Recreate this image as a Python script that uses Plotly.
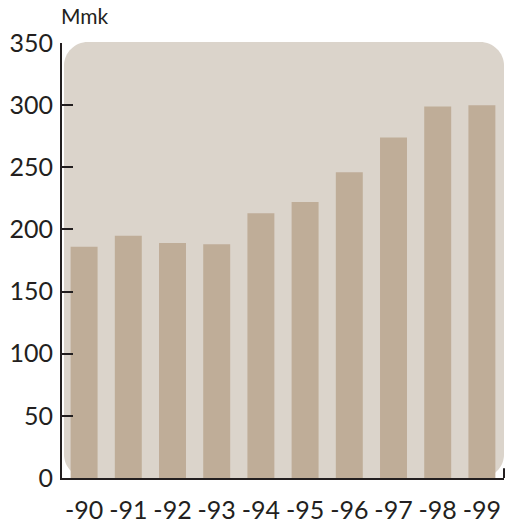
import plotly.graph_objects as go

years = ["-90", "-91", "-92", "-93", "-94", "-95", "-96", "-97", "-98", "-99"]
values = [186, 195, 189, 188, 213, 222, 246, 274, 299, 300]
y_ticks = [0, 50, 100, 150, 200, 250, 300, 350]
unit_label = "Mmk"

W, H = 506, 526
ML, MR, MT, MB = 62, 2, 43, 39
pw, ph = W - ML - MR, H - MT - MB

BG = "#dbd4cb"
BAR = "#bfad98"
INK = "#231f20"
FONT = "Lato"

x_idx = list(range(len(years)))

fig = go.Figure(go.Bar(x=x_idx, y=values, marker=dict(color=BAR, line=dict(width=0)),
                       width=0.61, hoverinfo="skip"))

# rounded background panel (paper coordinates)
r = 24
rx, ry = r / pw, r / ph
x0, x1 = 2 / pw, 1.0
y0, y1 = 0.0, 1 + 1 / ph
k = 0.45
path = (
    f"M {x0+rx},{y1} L {x1-rx},{y1} "
    f"C {x1-rx*k},{y1} {x1},{y1-ry*k} {x1},{y1-ry} "
    f"L {x1},{y0+ry} C {x1},{y0+ry*k} {x1-rx*k},{y0} {x1-rx},{y0} "
    f"L {x0+rx},{y0} C {x0+rx*k},{y0} {x0},{y0+ry*k} {x0},{y0+ry} "
    f"L {x0},{y1-ry} C {x0},{y1-ry*k} {x0+rx*k},{y1} {x0+rx},{y1} Z"
)
fig.add_shape(type="path", path=path, xref="paper", yref="paper",
              fillcolor=BG, line=dict(width=0), layer="below")
# small end tick at right end of x axis
fig.add_shape(type="line", xref="paper", yref="paper", x0=1.0, x1=1.0,
              y0=0, y1=10 / ph, line=dict(color=INK, width=2))

fig.update_layout(
    width=W, height=H,
    margin=dict(l=ML, r=MR, t=MT, b=MB, pad=0),
    paper_bgcolor="white", plot_bgcolor="rgba(0,0,0,0)",
    showlegend=False,
    font=dict(family=FONT, color=INK, size=24),
    xaxis=dict(range=[-0.5, len(years) - 0.5], tickvals=x_idx, ticktext=years,
               showline=True, linecolor=INK, linewidth=2, ticks="",
               showgrid=False, zeroline=False, tickfont=dict(size=25),
               ticklabelstandoff=9),
    yaxis=dict(range=[0, 350], tickvals=y_ticks, showline=True, linecolor=INK,
               linewidth=2, ticks="inside", ticklen=11, tickwidth=2, tickcolor=INK,
               showgrid=False, zeroline=False, tickfont=dict(size=25),
               ticklabelstandoff=2),
    annotations=[dict(text=unit_label, xref="paper", yref="paper", x=-3 / pw, y=1 + 13 / ph,
                      xanchor="left", yanchor="bottom", showarrow=False,
                      font=dict(size=21, color=INK))],
)

fig.write_html("out.html", config={"displayModeBar": False},
               post_script="document.body.style.margin='0px';")
